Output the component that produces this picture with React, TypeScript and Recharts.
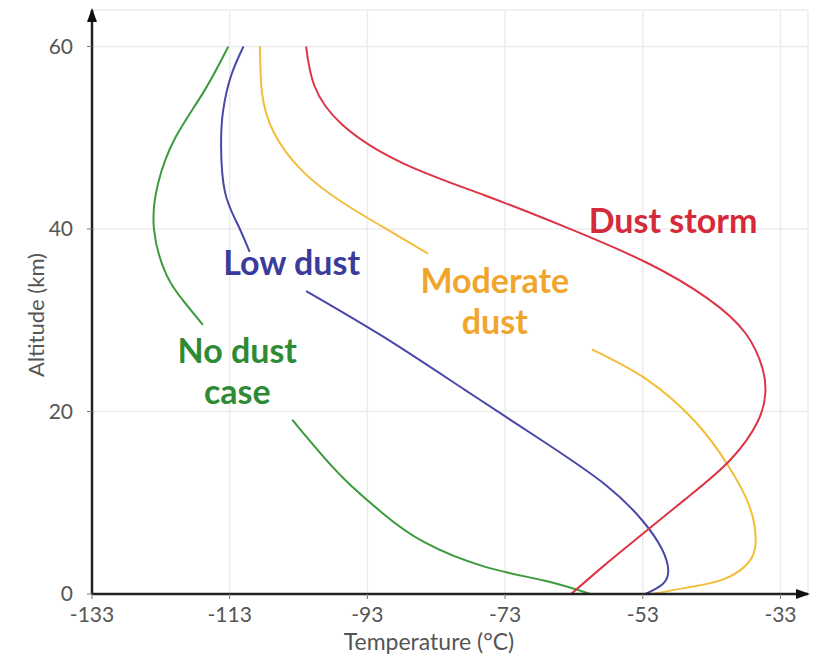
import {
  CartesianGrid,
  Line,
  LineChart,
  ReferenceDot,
  XAxis,
  YAxis,
} from "recharts";

// Temperature (°C) against altitude (km) for each dust scenario.
// Profiles are split where the curve leaves room for its caption.
const tempTicks = [-133, -113, -93, -73, -53, -33];
const altTicks = [0, 20, 40, 60];

const noDustLower = [
  { alt: 0, t: -60.6 },
  { alt: 1.45, t: -67.2 },
  { alt: 3.0, t: -76.0 },
  { alt: 5.7, t: -84.8 },
  { alt: 8.8, t: -90.7 },
  { alt: 11.9, t: -95.4 },
  { alt: 14.2, t: -98.4 },
  { alt: 17.0, t: -101.6 },
  { alt: 19.1, t: -103.9 },
];
const noDustUpper = [
  { alt: 29.5, t: -116.9 },
  { alt: 32.0, t: -119.6 },
  { alt: 35.0, t: -122.2 },
  { alt: 40.0, t: -124.0 },
  { alt: 45.0, t: -123.4 },
  { alt: 50.0, t: -120.9 },
  { alt: 55.0, t: -116.8 },
  { alt: 60, t: -113.2 },
];

const lowDustLower = [
  { alt: 0, t: -52.6 },
  { alt: 1.1, t: -50.1 },
  { alt: 2.6, t: -49.3 },
  { alt: 4.9, t: -50.2 },
  { alt: 8.0, t: -53.0 },
  { alt: 11.9, t: -58.3 },
  { alt: 16.6, t: -67.2 },
  { alt: 22.4, t: -78.9 },
  { alt: 28.2, t: -90.7 },
  { alt: 33.2, t: -101.9 },
];
const lowDustUpper = [
  { alt: 37.5, t: -110.1 },
  { alt: 40.6, t: -111.9 },
  { alt: 44.1, t: -113.7 },
  { alt: 49.1, t: -114.25 },
  { alt: 53.0, t: -113.95 },
  { alt: 56.8, t: -112.8 },
  { alt: 60, t: -111.0 },
];

const moderateLower = [
  { alt: 0, t: -51.6 },
  { alt: 0.7, t: -46.6 },
  { alt: 1.6, t: -41.3 },
  { alt: 3.4, t: -37.7 },
  { alt: 5.7, t: -36.6 },
  { alt: 9.6, t: -37.5 },
  { alt: 14.2, t: -40.7 },
  { alt: 18.9, t: -45.4 },
  { alt: 23.5, t: -52.4 },
  { alt: 26.8, t: -60.4 },
];
const moderateUpper = [
  { alt: 37.3, t: -84.2 },
  { alt: 40.2, t: -90.7 },
  { alt: 42.9, t: -96.6 },
  { alt: 46.4, t: -102.5 },
  { alt: 50.6, t: -106.6 },
  { alt: 54.9, t: -108.3 },
  { alt: 60, t: -108.6 },
];

const dustStorm = [
  { alt: 0, t: -63.4 },
  { alt: 3.0, t: -58.8 },
  { alt: 6.1, t: -53.8 },
  { alt: 10.4, t: -46.8 },
  { alt: 14.6, t: -40.4 },
  { alt: 18.9, t: -36.3 },
  { alt: 22.0, t: -35.2 },
  { alt: 24.7, t: -35.6 },
  { alt: 28.6, t: -38.1 },
  { alt: 32.4, t: -43.6 },
  { alt: 36.3, t: -52.4 },
  { alt: 40.2, t: -64.2 },
  { alt: 43.7, t: -76.0 },
  { alt: 47.2, t: -87.8 },
  { alt: 51.4, t: -96.6 },
  { alt: 55.7, t: -100.7 },
  { alt: 60, t: -101.9 },
];

// Captions sit in data space: first-line baseline, centred on t.
const captions = [
  { t: -48.6, alt: 39.6, lines: ["Dust storm"], color: "#D42A3A" },
  { t: -104.0, alt: 35.0, lines: ["Low dust"], color: "#3B3B9C" },
  { t: -74.5, alt: 33.0, lines: ["Moderate", "dust"], color: "#F0A62C" },
  { t: -111.9, alt: 25.3, lines: ["No dust", "case"], color: "#2E8B35" },
];

const FONT = "Lato, 'Open Sans', sans-serif";
const TICK_STYLE = { fill: "#555", fontSize: 21, fontFamily: FONT };
const CAPTION_SIZE = 34;
const CAPTION_LEADING = 41;

function Caption({
  cx,
  cy,
  lines,
  color,
}: {
  cx?: number;
  cy?: number;
  lines: string[];
  color: string;
}) {
  if (cx == null || cy == null) return null;
  return (
    <g>
      {lines.map((line, i) => (
        <text
          key={line}
          x={cx}
          y={cy + i * CAPTION_LEADING}
          textAnchor="middle"
          fill={color}
          fontFamily={FONT}
          fontWeight={700}
          fontSize={CAPTION_SIZE}
        >
          {line}
        </text>
      ))}
    </g>
  );
}

export default function App() {
  // natural splines run through every point; points are spaced
  // roughly evenly along each profile so the curve stays smooth
  const lineProps = {
    type: "natural" as const,
    dataKey: "t",
    dot: false,
    activeDot: false,
    strokeWidth: 2,
    isAnimationActive: false,
  };

  return (
    <div
      style={{
        position: "absolute",
        left: 0,
        top: 0,
        width: 813,
        height: 662,
        background: "#fff",
      }}
    >
      <LineChart
        width={813}
        height={662}
        layout="vertical"
        margin={{ top: 10, right: 5, bottom: 38, left: 0 }}
      >
        <defs>
          <marker
            id="axis-arrow"
            viewBox="0 0 14 10"
            markerWidth={14}
            markerHeight={10}
            refX={12}
            refY={5}
            orient="auto-start-reverse"
            markerUnits="userSpaceOnUse"
          >
            <path d="M0,0 L14,5 L0,10 z" fill="#111" />
          </marker>
        </defs>
        <CartesianGrid stroke="#ececec" strokeWidth={1.5} />
        <XAxis
          type="number"
          dataKey="t"
          domain={[-133, -29]}
          ticks={tempTicks}
          allowDataOverflow
          height={30}
          tickSize={5}
          tickMargin={8}
          tickLine={{ stroke: "#777" }}
          axisLine={{
            stroke: "#222",
            strokeWidth: 2.5,
            markerEnd: "url(#axis-arrow)",
          }}
          tick={TICK_STYLE}
          label={{
            content: ({ viewBox }: any) => (
              <text
                x={viewBox.x + viewBox.width / 2 - 21}
                y={viewBox.y + 56}
                textAnchor="middle"
                fill="#555"
                fontFamily={FONT}
                fontSize={23}
              >
                Temperature (°C)
              </text>
            ),
          }}
        />
        <YAxis
          type="number"
          dataKey="alt"
          domain={[0, 64]}
          ticks={altTicks}
          allowDataOverflow
          reversed
          width={92}
          tickSize={5}
          tickMargin={14}
          tickLine={{ stroke: "#777" }}
          axisLine={{
            stroke: "#222",
            strokeWidth: 2.5,
            markerStart: "url(#axis-arrow)",
          }}
          tick={TICK_STYLE}
          label={{
            content: ({ viewBox }: any) => {
              const cx = 35;
              const cy = viewBox.y + viewBox.height / 2 + 13;
              return (
                <text
                  x={cx}
                  y={cy}
                  transform={`rotate(-90 ${cx} ${cy})`}
                  textAnchor="middle"
                  dominantBaseline="central"
                  fill="#555"
                  fontFamily={FONT}
                  fontSize={22}
                >
                  Altitude (km)
                </text>
              );
            },
          }}
        />
        <Line {...lineProps} data={noDustLower} stroke="#3C9A3C" />
        <Line {...lineProps} data={noDustUpper} stroke="#3C9A3C" />
        <Line {...lineProps} data={lowDustLower} stroke="#4848A8" />
        <Line {...lineProps} data={lowDustUpper} stroke="#4848A8" />
        <Line {...lineProps} data={moderateLower} stroke="#F2BE3A" />
        <Line {...lineProps} data={moderateUpper} stroke="#F2BE3A" />
        <Line {...lineProps} data={dustStorm} stroke="#DC3545" />
        {captions.map((c) => (
          <ReferenceDot
            key={c.lines[0]}
            x={c.t}
            y={c.alt}
            r={0}
            shape={(p: any) => (
              <Caption cx={p.cx} cy={p.cy} lines={c.lines} color={c.color} />
            )}
          />
        ))}
      </LineChart>
    </div>
  );
}
